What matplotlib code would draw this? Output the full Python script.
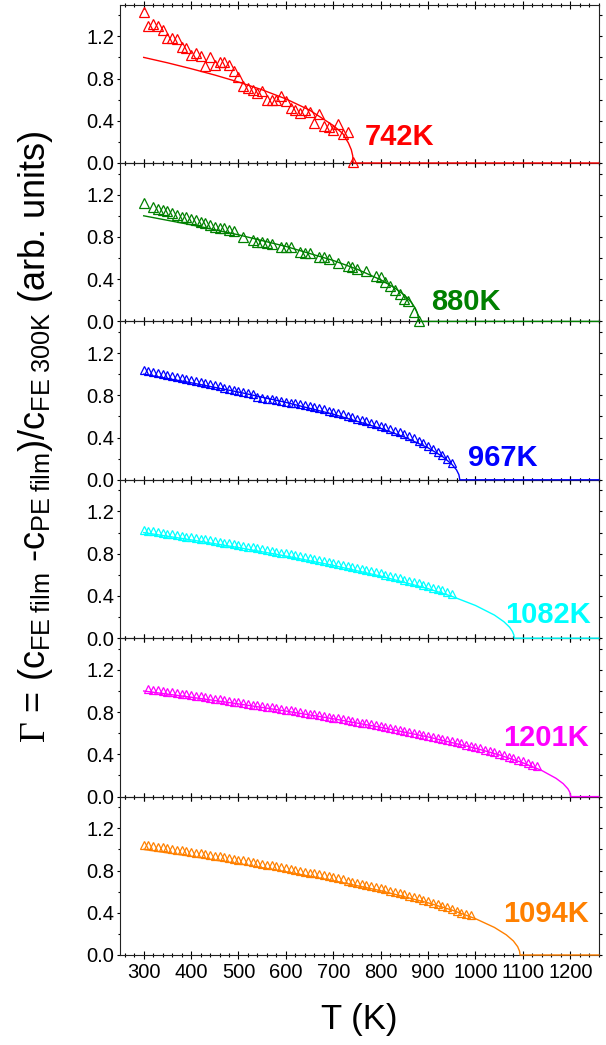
import matplotlib
matplotlib.use('Agg')
import matplotlib.pyplot as plt
from matplotlib.ticker import MultipleLocator, FormatStrFormatter

plt.rcParams['font.family'] = ['Liberation Sans', 'DejaVu Sans']
plt.rcParams['mathtext.fontset'] = 'custom'
plt.rcParams['mathtext.rm'] = 'Liberation Serif'
plt.rcParams['mathtext.sf'] = 'Liberation Sans'
plt.rcParams['mathtext.it'] = 'Liberation Serif:italic'

# ---------------- data ----------------
labels = ['742K', '880K', '967K', '1082K', '1201K', '1094K']
colors = ['#FF0000', '#008000', '#0000FF', '#00FFFF', '#FF00FF', '#FF8000']

T1 = [300, 310, 320, 330, 340, 350, 360, 370, 380, 390, 400, 410, 420, 430, 440,
      450, 460, 470, 480, 490, 500, 510, 520, 530, 540, 550, 560, 570, 580, 590,
      600, 610, 620, 630, 640, 650, 660, 670, 680, 690, 700, 710, 720, 730, 742]
Y1 = [1.43, 1.30, 1.32, 1.30, 1.26, 1.18, 1.18, 1.17, 1.095, 1.09, 1.025, 1.045, 1.01, 0.92, 1.0,
      0.93, 0.96, 0.955, 0.93, 0.87, 0.81, 0.73, 0.71, 0.695, 0.66, 0.68, 0.60, 0.60, 0.60, 0.63,
      0.585, 0.52, 0.505, 0.47, 0.505, 0.485, 0.38, 0.46, 0.35, 0.345, 0.315, 0.37, 0.27, 0.29, 0.01]

T2 = [300, 320, 330, 340, 350, 360, 370, 380, 390, 400, 410, 420, 430, 440, 450, 460, 470, 480, 490,
      510, 530, 540, 550, 560, 570, 590, 600, 610, 630, 640, 650, 670, 680, 690, 710, 730, 740, 750,
      770, 790, 800, 810, 820, 830, 840, 850, 857, 870, 881]
Y2 = [1.121, 1.079, 1.063, 1.057, 1.041, 1.025, 1.01, 0.993, 0.984, 0.968, 0.962, 0.94, 0.93, 0.911,
      0.898, 0.889, 0.883, 0.867, 0.857, 0.803, 0.771, 0.755, 0.752, 0.745, 0.73, 0.705, 0.702, 0.70,
      0.66, 0.65, 0.65, 0.612, 0.606, 0.59, 0.555, 0.524, 0.518, 0.50, 0.479, 0.429, 0.416, 0.37,
      0.335, 0.30, 0.26, 0.215, 0.195, 0.085, 0.005]

T3 = [300, 310, 320, 330, 340, 350, 360, 370, 380, 390, 400, 410, 420, 430, 440, 450, 460, 470,
      480, 490, 500, 510, 520, 530, 540, 550, 560, 570, 580, 590, 600, 610, 620, 630, 640, 650,
      660, 670, 680, 690, 700, 710, 720, 730, 740, 750, 760, 770, 780, 790, 800, 810, 820, 830,
      840, 850, 860, 870, 880, 890, 900, 910, 920, 930, 940, 950]
Y3 = [1.040, 1.030, 1.020, 1.011, 1.001, 0.991, 0.981, 0.972, 0.962, 0.952, 0.942, 0.932, 0.923,
      0.913, 0.903, 0.893, 0.884, 0.874, 0.864, 0.854, 0.844, 0.835, 0.825, 0.815,
      0.780, 0.775, 0.768, 0.761, 0.754, 0.747, 0.740, 0.732, 0.724, 0.716, 0.707, 0.698, 0.688,
      0.678, 0.667, 0.656, 0.644, 0.632, 0.619, 0.606, 0.593, 0.580, 0.567, 0.554, 0.540, 0.526,
      0.512, 0.497, 0.482, 0.466, 0.449, 0.431, 0.412, 0.392, 0.370, 0.347, 0.322, 0.295, 0.266,
      0.235, 0.200, 0.160]

T4 = [300, 310, 320, 330, 340, 350, 360, 370, 380, 390, 400, 410, 420, 430, 440, 450, 460, 470,
      480, 490, 500, 510, 520, 530, 540, 550, 560, 570, 580, 590, 600, 610, 620, 630, 640, 650,
      660, 670, 680, 690, 700, 710, 720, 730, 740, 750, 760, 770, 780, 790, 800, 810, 820, 830,
      840, 850, 860, 870, 880, 890, 900, 910, 920, 930, 940, 950]
Y4 = [1.026, 1.019, 1.012, 1.005, 0.998, 0.991, 0.984, 0.977, 0.970, 0.963,
      0.956, 0.949, 0.942, 0.935, 0.927, 0.920, 0.913, 0.905, 0.898, 0.891,
      0.883, 0.875, 0.867, 0.860, 0.852, 0.844, 0.836, 0.828, 0.820, 0.811,
      0.803, 0.795, 0.786, 0.777, 0.768, 0.759, 0.750, 0.741, 0.732, 0.723,
      0.714, 0.704, 0.694, 0.684, 0.674, 0.664, 0.654, 0.644, 0.634, 0.624,
      0.613, 0.602, 0.590, 0.579, 0.567, 0.555, 0.543, 0.531, 0.519, 0.506,
      0.494, 0.480, 0.466, 0.452, 0.437, 0.422]

T5 = [310, 320, 330, 340, 350, 360, 370, 380, 390, 400, 410, 420, 430, 440, 450, 460, 470, 480,
      490, 500, 510, 520, 530, 540, 550, 560, 570, 580, 590, 600, 610, 620, 630, 640, 650, 660,
      670, 680, 690, 700, 710, 720, 730, 740, 750, 760, 770, 780, 790, 800, 810, 820, 830, 840,
      850, 860, 870, 880, 890, 900, 910, 920, 930, 940, 950, 960, 970, 980, 990, 1000, 1010,
      1020, 1030, 1040, 1050, 1060, 1070, 1080, 1090, 1100, 1110, 1120, 1130]
Y5 = [1.019, 1.013, 1.007, 1.001, 0.994, 0.988, 0.981, 0.975, 0.968, 0.961,
      0.954, 0.948, 0.941, 0.934, 0.927, 0.921, 0.914, 0.907, 0.900, 0.893,
      0.886, 0.879, 0.872, 0.865, 0.858, 0.851, 0.844, 0.837, 0.830, 0.823,
      0.816, 0.809, 0.801, 0.794, 0.786, 0.779, 0.771, 0.764, 0.756, 0.749,
      0.741, 0.733, 0.725, 0.717, 0.709, 0.701, 0.693, 0.685, 0.676, 0.668,
      0.659, 0.651, 0.642, 0.633, 0.624, 0.615, 0.606, 0.596, 0.587, 0.577,
      0.567, 0.557, 0.547, 0.536, 0.526, 0.515, 0.504, 0.493, 0.481, 0.470,
      0.458, 0.446, 0.433, 0.420, 0.407, 0.393, 0.379, 0.364, 0.349, 0.333,
      0.317, 0.300, 0.290]

T6 = [300, 310, 320, 330, 340, 350, 360, 370, 380, 390, 400, 410, 420, 430, 440, 450, 460, 470,
      480, 490, 500, 510, 520, 530, 540, 550, 560, 570, 580, 590, 600, 610, 620, 630, 640, 650,
      660, 670, 680, 690, 700, 710, 720, 730, 740, 750, 760, 770, 780, 790, 800, 810, 820, 830,
      840, 850, 860, 870, 880, 890, 900, 910, 920, 930, 940, 950, 960, 970, 980, 990]
Y6 = [1.045, 1.038, 1.031, 1.025, 1.018, 1.011, 1.004, 0.997, 0.990, 0.983,
      0.976, 0.969, 0.962, 0.955, 0.947, 0.940, 0.933, 0.925, 0.918, 0.910,
      0.903, 0.895, 0.888, 0.880, 0.872, 0.864, 0.856, 0.848, 0.840, 0.832,
      0.824, 0.815, 0.807, 0.798, 0.790, 0.781, 0.772, 0.763, 0.754, 0.744,
      0.735, 0.725, 0.715, 0.705, 0.695, 0.685, 0.675, 0.664, 0.653, 0.643,
      0.632, 0.621, 0.609, 0.598, 0.586, 0.574, 0.561, 0.549, 0.536, 0.522,
      0.509, 0.495, 0.480, 0.465, 0.450, 0.434, 0.418, 0.402, 0.390, 0.378]

# fitted curves
F1T = [300, 350, 400, 450, 500, 550, 600, 650, 700, 720, 732, 738, 741, 742, 1260]
F1Y = [1.0, 0.949, 0.893, 0.833, 0.767, 0.693, 0.607, 0.501, 0.355, 0.279, 0.189, 0.126, 0.069, 0.0, 0.0]
F2T = [300, 400, 500, 600, 700, 750, 800, 830, 850, 865, 873, 877, 879.5, 880, 1260]
F2Y = [1.0, 0.915, 0.820, 0.710, 0.577, 0.495, 0.394, 0.316, 0.249, 0.179, 0.125, 0.084, 0.036, 0.0, 0.0]
F3T = [300, 400, 500, 600, 700, 800, 850, 900, 930, 950, 960, 965, 967, 1260]
F3Y = [1.0, 0.919, 0.831, 0.733, 0.621, 0.487, 0.405, 0.303, 0.222, 0.148, 0.094, 0.049, 0.0, 0.0]
F4T = [300, 400, 500, 600, 700, 800, 900, 950, 1000, 1040, 1060, 1072, 1078, 1081, 1082, 1260]
F4Y = [1.0, 0.931, 0.858, 0.778, 0.689, 0.588, 0.469, 0.397, 0.310, 0.219, 0.156, 0.104, 0.064, 0.031, 0.0, 0.0]
F5T = [300, 400, 500, 600, 700, 800, 900, 1000, 1050, 1100, 1140, 1170, 1185, 1195, 1199, 1201, 1260]
F5Y = [1.0, 0.941, 0.878, 0.810, 0.737, 0.656, 0.565, 0.458, 0.395, 0.320, 0.247, 0.173, 0.123, 0.074, 0.042, 0.0, 0.0]
F6T = [300, 400, 500, 600, 700, 800, 900, 950, 1000, 1040, 1065, 1080, 1089, 1093, 1094, 1260]
F6Y = [1.0, 0.935, 0.865, 0.789, 0.704, 0.609, 0.494, 0.426, 0.344, 0.261, 0.191, 0.133, 0.079, 0.036, 0.0, 0.0]

data_T = [T1, T2, T3, T4, T5, T6]
data_Y = [Y1, Y2, Y3, Y4, Y5, Y6]
fit_T = [F1T, F2T, F3T, F4T, F5T, F6T]
fit_Y = [F1Y, F2Y, F3Y, F4Y, F5Y, F6Y]

# ---------------- layout ----------------
W, H = 606, 1045
fig = plt.figure(figsize=(W / 100, H / 100), dpi=100)
axes = fig.subplots(6, 1, sharex=True)
fig.subplots_adjust(left=120 / W, right=598.7 / W, top=1 - 4.6 / H, bottom=1 - 955 / H, hspace=0)

label_pos = [(767, 0.17), (907, 0.11), (985, 0.126), (1062, 0.14), (1058, 0.48), (1058, 0.315)]
marker_sizes = [7.0, 6.5, 6.0, 6.0, 6.0, 6.0]

for i, ax in enumerate(axes):
    c = colors[i]
    ax.set_facecolor('none')
    ax.set_zorder(10 - i)
    ax.plot(fit_T[i], fit_Y[i], color=c, lw=1.0, zorder=3, clip_on=False)
    ax.plot(data_T[i], data_Y[i], ls='none', marker='^', mfc='none', mec=c,
            ms=marker_sizes[i], mew=0.9, zorder=4, clip_on=False)
    ax.text(label_pos[i][0], label_pos[i][1], labels[i], color=c, fontsize=21,
            fontweight='bold', ha='left', va='baseline')
    ax.set_xlim(250, 1260)
    ax.set_ylim(0, 1.5)
    ax.xaxis.set_major_locator(MultipleLocator(100))
    ax.xaxis.set_minor_locator(MultipleLocator(20))
    ax.yaxis.set_major_locator(MultipleLocator(0.4))
    ax.yaxis.set_minor_locator(MultipleLocator(0.2))
    ax.yaxis.set_major_formatter(FormatStrFormatter('%.1f'))
    ax.tick_params(axis='x', which='both', direction='inout', top=True, bottom=True,
                   width=0.8, labelsize=14.5, pad=3)
    ax.tick_params(axis='x', which='major', length=5.3)
    ax.tick_params(axis='x', which='minor', length=3.4)
    ax.tick_params(axis='y', which='both', direction='out', left=True, right=True,
                   width=0.8, labelsize=14.5, pad=2)
    ax.tick_params(axis='y', which='major', length=2.2)
    ax.tick_params(axis='y', which='minor', length=1.8)
    for sp in ax.spines.values():
        sp.set_linewidth(0.8)
        sp.set_color('#222222')

fig.text(36 / W, 1 - 437 / H,
         r'$\Gamma$ = (c$_{\mathsf{FE\ film}}$ -c$_{\mathsf{PE\ film}}$)/c$_{\mathsf{FE\ 300K}}$ (arb. units)',
         rotation=90, ha='center', va='center', fontsize=26)
fig.text(359 / W, 1 - 1020 / H, 'T (K)', ha='center', va='center', fontsize=25)

fig.savefig('out.png', dpi=100, facecolor='white')
